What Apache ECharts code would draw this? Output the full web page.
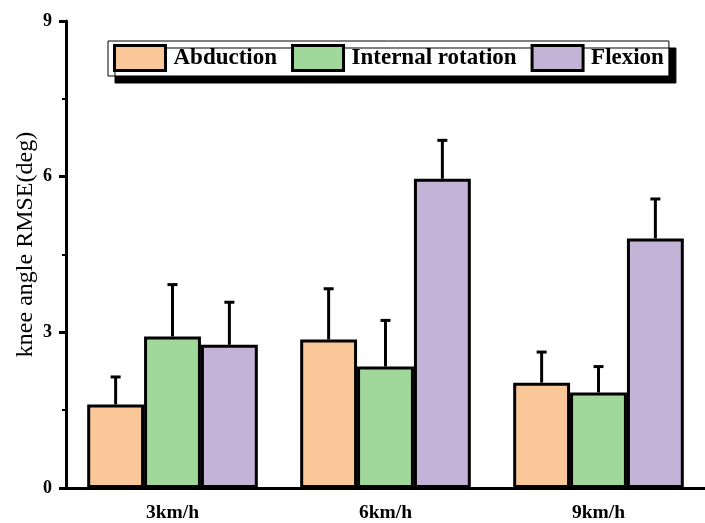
<!DOCTYPE html>
<html>
<head>
<meta charset="utf-8">
<script src="https://cdn.jsdelivr.net/npm/echarts@6/dist/echarts.min.js"></script>
<style>
  html, body { margin: 0; padding: 0; background: #fff; }
  #chart { width: 705px; height: 523px; }
</style>
</head>
<body>
<div id="chart"></div>
<script>
// Knee angle RMSE by walking speed, mean with upper error bar
const speeds = ['3km/h', '6km/h', '9km/h'];
const seriesNames = ['Abduction', 'Internal rotation', 'Flexion'];
const abduction = [1.61, 2.86, 2.03];
const internalRotation = [2.92, 2.34, 1.84];
const flexion = [2.76, 5.96, 4.81];
const abductionErr = [0.53, 0.98, 0.59];
const internalRotationErr = [1.00, 0.89, 0.50];
const flexionErr = [0.82, 0.74, 0.76];
const yTicks = [0, 3, 6, 9];

const colors = ['#FAC898', '#A0D89C', '#C3B3D7'];
const means = [abduction, internalRotation, flexion];
const errs = [abductionErr, internalRotationErr, flexionErr];
const FONT = '"Liberation Serif", "Times New Roman", serif';
const BAR_FRAC = 0.267;

const barSeries = seriesNames.map((name, i) => ({
  name: name,
  type: 'bar',
  xAxisIndex: 0,
  data: means[i],
  barWidth: (BAR_FRAC * 100) + '%',
  barGap: '0%',
  itemStyle: { color: colors[i], borderColor: '#000', borderWidth: 3 },
  z: 2
}));

const errSeries = seriesNames.map((name, i) => ({
  type: 'custom',
  xAxisIndex: 0,
  z: 3,
  silent: true,
  data: means[i].map((m, k) => [k, m, m + errs[i][k]]),
  renderItem: function (params, api) {
    const band = api.size([1, 0])[0];
    const off = (i - 1) * band * BAR_FRAC;
    const base = api.coord([api.value(0), api.value(1)]);
    const top = api.coord([api.value(0), api.value(2)]);
    const x = base[0] + off;
    const cap = 5;
    return {
      type: 'group',
      children: [
        { type: 'line', shape: { x1: x, y1: base[1], x2: x, y2: top[1] },
          style: { stroke: '#000', lineWidth: 3 } },
        { type: 'line', shape: { x1: x - cap, y1: top[1], x2: x + cap, y2: top[1] },
          style: { stroke: '#000', lineWidth: 3 } }
      ]
    };
  }
}));

const chart = echarts.init(document.getElementById('chart'), null, { renderer: 'canvas' });
chart.setOption({
  animation: false,
  backgroundColor: '#fff',
  grid: { left: 66, top: 21, width: 647, height: 470 },
  legend: {
    data: seriesNames,
    icon: 'rect',
    left: 108,
    top: 41,
    padding: [3, 5, 4, 5],
    itemWidth: 51,
    itemHeight: 25,
    itemGap: 14,
    backgroundColor: '#fff',
    borderColor: '#000',
    borderWidth: 1,
    shadowColor: '#000',
    shadowBlur: 0,
    shadowOffsetX: 7,
    shadowOffsetY: 7,
    itemStyle: { borderColor: '#000', borderWidth: 3 },
    textStyle: { fontFamily: FONT, fontWeight: 'bold', fontSize: 23, color: '#000', padding: [0, 0, 0, 3] }
  },
  xAxis: [
    {
      type: 'category',
      data: speeds,
      axisLine: { lineStyle: { color: '#000', width: 3 } },
      axisTick: { alignWithLabel: true, length: 5, lineStyle: { color: '#000', width: 3 } },
      axisLabel: { fontFamily: FONT, fontWeight: 'bold', fontSize: 19.5, color: '#000', margin: 15 }
    },
    {
      // boundary ticks between speed groups
      type: 'category',
      data: speeds,
      position: 'bottom',
      axisLine: { show: false },
      axisTick: { length: 3, lineStyle: { color: '#000', width: 2 } },
      axisLabel: { show: false }
    }
  ],
  yAxis: {
    type: 'value',
    min: yTicks[0],
    max: yTicks[yTicks.length - 1],
    interval: 3,
    name: 'knee angle RMSE(deg)',
    nameLocation: 'middle',
    nameGap: 28,
    nameMoveOverlap: false,
    nameTextStyle: { fontFamily: FONT, fontSize: 24, color: '#000', padding: [0, 0, 0, 20] },
    axisLine: { show: true, lineStyle: { color: '#000', width: 3 } },
    axisTick: { show: true, length: 7, lineStyle: { color: '#000', width: 3 } },
    minorTick: { show: true, splitNumber: 2, length: 4, lineStyle: { color: '#000', width: 2 } },
    splitLine: { show: false },
    axisLabel: { fontFamily: FONT, fontWeight: 'bold', fontSize: 18, color: '#000', margin: 14 }
  },
  series: barSeries.concat(errSeries)
});
</script>
</body>
</html>
